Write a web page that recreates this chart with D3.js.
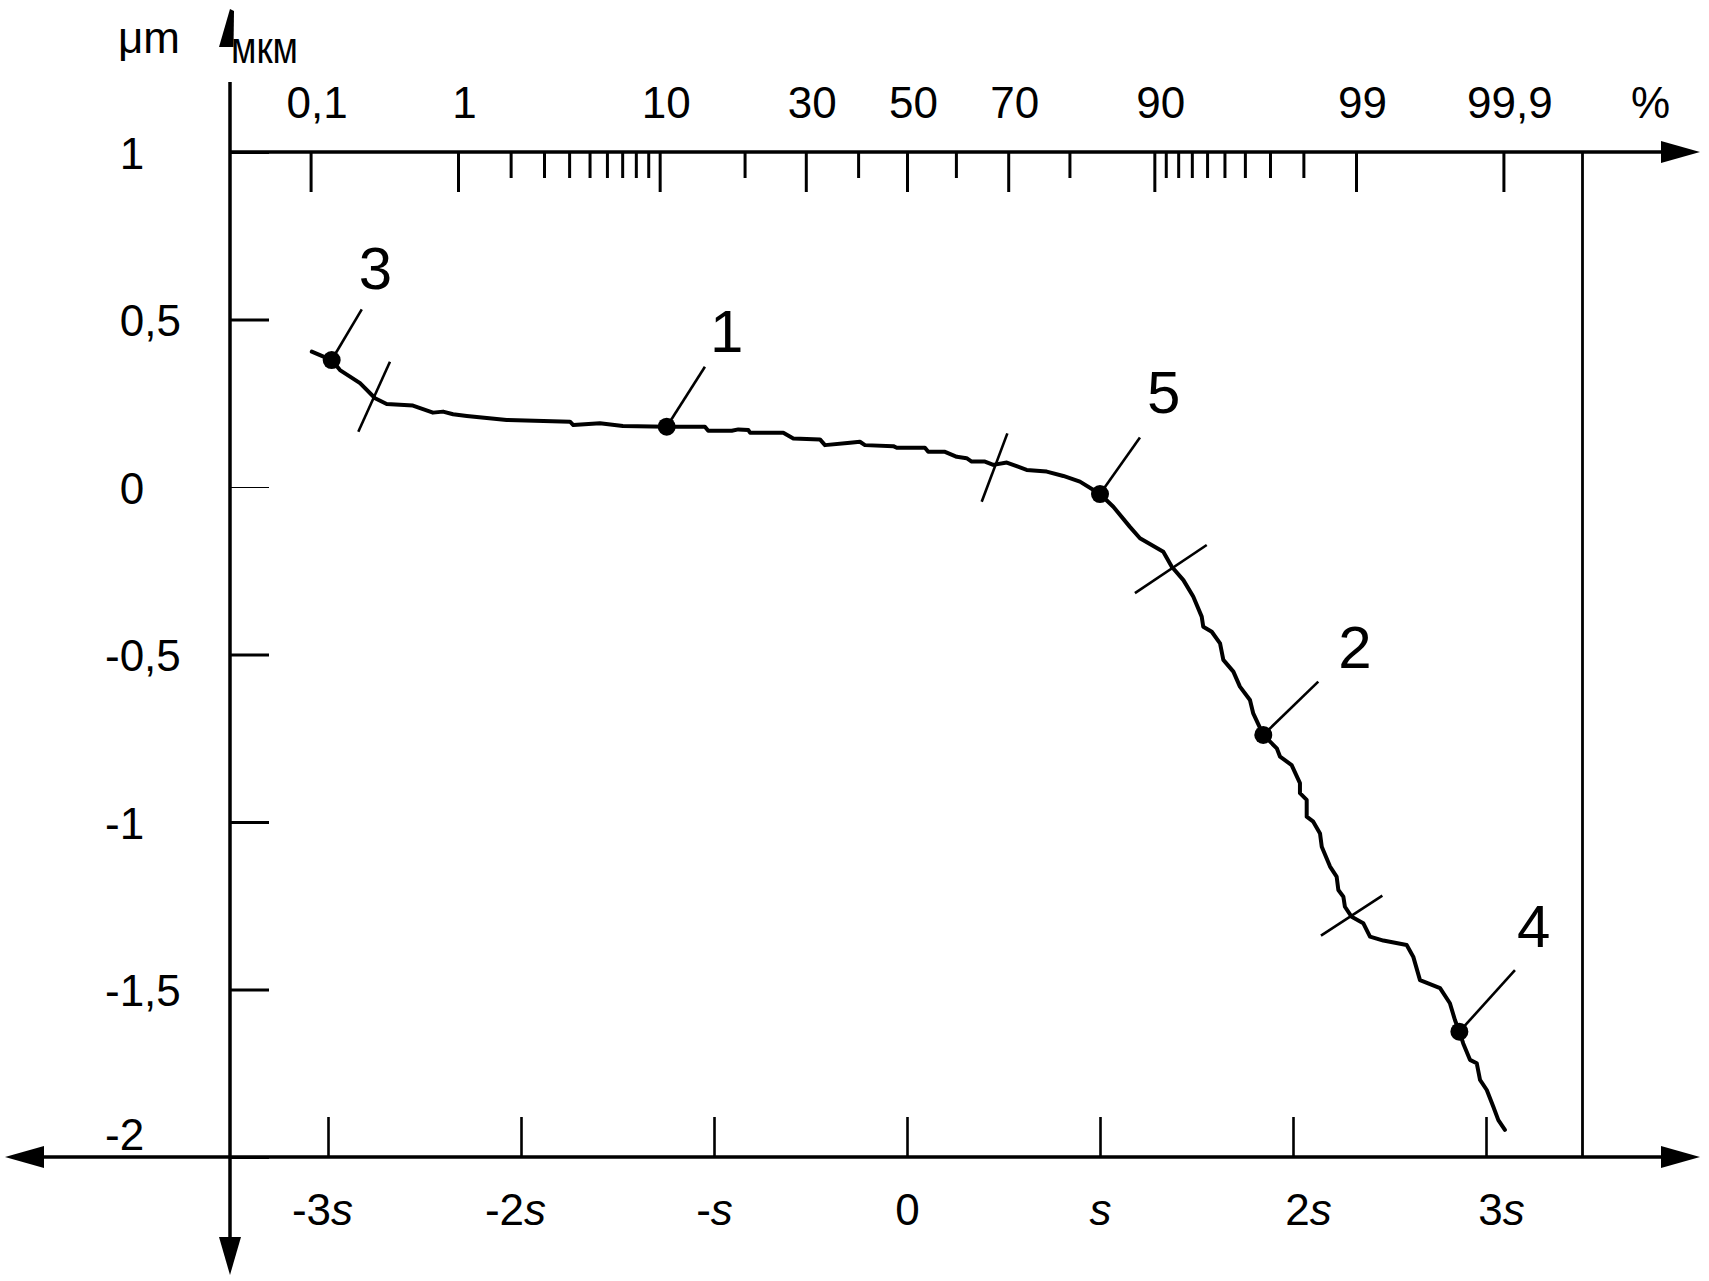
<!DOCTYPE html>
<html lang="ru">
<head>
<meta charset="UTF-8">
<title>Probability plot of profile deviations</title>
<script src="https://d3js.org/d3.v7.min.js"></script>
<style>
  body { margin: 0; background: #fff; }
  svg { display: block; background: #fff; }
  svg text { font-family: "Liberation Sans", Arial, sans-serif; fill: #000; }
</style>
</head>
<body>
<svg width="1709" height="1281"></svg>
<script>
// upper axis: cumulative percentage (probability scale)
var pctMajor = [0.1, 1, 10, 30, 50, 70, 90, 99, 99.9];
var pctLabels = ["0,1", "1", "10", "30", "50", "70", "90", "99", "99,9"];
var pctMinor = [2, 3, 4, 5, 6, 7, 8, 9, 20, 40, 60, 80, 91, 92, 93, 94, 95, 96, 97, 98];

// lower axis: multiples of s
var sTicks = [-3, -2, -1, 0, 1, 2, 3];
var sPrefix = ["-3", "-2", "-", "0", "", "2", "3"];

// vertical axis, µm
var yTicks = [1, 0.5, 0, -0.5, -1, -1.5, -2];
var yLabels = ["1", "0,5", "0", "-0,5", "-1", "-1,5", "-2"];

// the curve: position in s units and deviation in µm
var curveZ = [-3.084, -2.981, -2.938, -2.834, -2.756, -2.696, -2.560, -2.456, -2.404, -2.352,
  -2.281, -2.074, -1.746, -1.729, -1.591, -1.472, -1.245, -1.047, -1.030, -0.908,
  -0.874, -0.822, -0.813, -0.641, -0.589, -0.451, -0.425, -0.295, -0.244, -0.218,
  -0.071, -0.053, 0.093, 0.110, 0.197, 0.258, 0.309, 0.335, 0.404, 0.447,
  0.517, 0.620, 0.724, 0.810, 0.896, 1.000, 1.069, 1.155, 1.207, 1.328,
  1.372, 1.432, 1.483, 1.527, 1.535, 1.579, 1.622, 1.639, 1.691, 1.725,
  1.777, 1.794, 1.846, 1.916, 1.933, 1.993, 2.036, 2.036, 2.071, 2.071,
  2.105, 2.140, 2.149, 2.192, 2.226, 2.235, 2.261, 2.269, 2.304, 2.364,
  2.399, 2.468, 2.589, 2.623, 2.658, 2.762, 2.813, 2.839, 2.862, 2.882,
  2.917, 2.952, 2.969, 3.004, 3.038, 3.064, 3.098];
var curveV = [0.404, 0.379, 0.349, 0.310, 0.265, 0.248, 0.243, 0.222, 0.225, 0.217,
  0.212, 0.200, 0.195, 0.185, 0.190, 0.182, 0.180, 0.180, 0.168, 0.168,
  0.172, 0.170, 0.162, 0.162, 0.145, 0.142, 0.125, 0.132, 0.135, 0.125,
  0.122, 0.117, 0.117, 0.105, 0.105, 0.090, 0.086, 0.076, 0.076, 0.066,
  0.073, 0.051, 0.046, 0.033, 0.016, -0.021, -0.059, -0.119, -0.153, -0.193,
  -0.238, -0.278, -0.327, -0.387, -0.417, -0.432, -0.467, -0.516, -0.551, -0.596,
  -0.636, -0.676, -0.740, -0.780, -0.805, -0.830, -0.884, -0.914, -0.934, -0.984,
  -0.999, -1.034, -1.074, -1.133, -1.163, -1.203, -1.223, -1.253, -1.283, -1.302,
  -1.342, -1.354, -1.367, -1.402, -1.472, -1.496, -1.541, -1.591, -1.626, -1.661,
  -1.710, -1.720, -1.770, -1.800, -1.850, -1.890, -1.919];

// numbered points on the curve and the far end of their leaders
var markLabels = ["3", "1", "5", "2", "4"];
var markZ = [-2.981, -1.245, 1.000, 1.846, 2.862];
var markV = [0.379, 0.180, -0.021, -0.740, -1.626];
var leaderZ = [-2.825, -1.047, 1.207, 2.131, 3.150];
var leaderV = [0.530, 0.359, 0.148, -0.581, -1.442];

// short strokes across the curve (start / end)
var crossZ1 = [-2.843, 0.387, 1.181, 2.145];
var crossV1 = [0.165, -0.044, -0.317, -1.339];
var crossZ2 = [-2.679, 0.520, 1.553, 2.463];
var crossV2 = [0.374, 0.160, -0.173, -1.220];

// inverse of the normal distribution (Acklam's approximation)
function probit(p) {
  var a = [-39.69683028665376, 220.9460984245205, -275.9285104469687, 138.3577518672690, -30.66479806614716, 2.506628277459239];
  var b = [-54.47609879822406, 161.5858589208251, -155.6989798598866, 66.80131188771972, -13.28068155288572];
  var c = [-0.007784894002430293, -0.3223964580411365, -2.400758277161838, -2.549732539343734, 4.374664141464968, 2.938163982698783];
  var d = [0.007784695709041462, 0.3224671290700398, 2.445134137142996, 3.754408661907416];
  var pl = 0.02425, q, r;
  if (p < pl) {
    q = Math.sqrt(-2 * Math.log(p));
    return (((((c[0]*q+c[1])*q+c[2])*q+c[3])*q+c[4])*q+c[5]) / ((((d[0]*q+d[1])*q+d[2])*q+d[3])*q+1);
  }
  if (p > 1 - pl) {
    q = Math.sqrt(-2 * Math.log(1 - p));
    return -(((((c[0]*q+c[1])*q+c[2])*q+c[3])*q+c[4])*q+c[5]) / ((((d[0]*q+d[1])*q+d[2])*q+d[3])*q+1);
  }
  q = p - 0.5; r = q * q;
  return (((((a[0]*r+a[1])*r+a[2])*r+a[3])*r+a[4])*r+a[5])*q / (((((b[0]*r+b[1])*r+b[2])*r+b[3])*r+b[4])*r+1);
}

var svg = d3.select("svg");
var FONT = 44;

var x = d3.scaleLinear().domain([-3, 3]).range([328, 1486]);
var y = d3.scaleLinear().domain([-2, 1]).range([1157, 152]);

// probability scale built on top of x, usable by d3.axis
function pScale(p) { return x(probit(p / 100)); }
pScale.copy = function() { return pScale; };
pScale.domain = function() { return [0.1, 99.9]; };
pScale.range = function() { return x.range(); };

var yTop = y(1), yBot = y(-2);
var axisLeftX = 230;       // vertical axis position
var frameX = x(3.5);       // right frame line
var rightEnd = 1700, leftEnd = 5;

// ---- upper probability axis
var topAxis = svg.append("g").attr("transform", "translate(0," + yTop + ")");
topAxis.append("g")
  .call(d3.axisTop(pScale).tickValues(pctMinor).tickSizeInner(-26).tickSizeOuter(0).tickFormat(""))
  .call(function(g) { g.select(".domain").remove(); });
topAxis.append("g")
  .call(d3.axisTop(pScale).tickValues(pctMajor).tickSizeInner(-40).tickSizeOuter(0).tickPadding(34)
    .tickFormat(function(d, i) { return pctLabels[i]; }))
  .call(function(g) {
    g.select(".domain").remove();
    g.selectAll("text").attr("font-size", FONT).attr("dx", 6).attr("font-family", null);
  });
topAxis.selectAll(".tick line").attr("stroke", "#000").attr("stroke-width", 3);

svg.append("text").attr("x", 1631).attr("y", 118).attr("font-size", FONT).text("%");

// ---- lower s axis
var botAxis = svg.append("g").attr("transform", "translate(0," + yBot + ")")
  .call(d3.axisBottom(x).tickValues(sTicks).tickSizeInner(-40).tickSizeOuter(0).tickPadding(37).tickFormat(""))
  .call(function(g) { g.select(".domain").remove(); });
botAxis.selectAll(".tick line").attr("stroke", "#000").attr("stroke-width", 2.6);
botAxis.selectAll(".tick text").each(function(d, i) {
  var t = d3.select(this).attr("font-size", FONT).attr("font-family", null)
    .attr("dx", d >= 2 ? 15 : (d <= -2 ? -6 : 0));
  t.append("tspan").text(sPrefix[i]);
  if (d !== 0) t.append("tspan").attr("font-style", "italic").text("s");
});

// ---- vertical axis (ticks inside, labels at the left)
var leftAxis = svg.append("g").attr("transform", "translate(" + axisLeftX + ",0)")
  .call(d3.axisLeft(y).tickValues(yTicks).tickSizeInner(-39).tickSizeOuter(0)
    .tickFormat(function(d, i) { return yLabels[i]; }))
  .call(function(g) { g.select(".domain").remove(); });
leftAxis.selectAll(".tick line").attr("stroke", "#000")
  .attr("stroke-width", function(d) { return d === 0 ? 1.2 : 3; });
leftAxis.selectAll(".tick text")
  .attr("font-size", FONT).attr("font-family", null)
  .attr("text-anchor", "start").attr("dy", null)
  .attr("x", function(d) { return 105 - axisLeftX + (d < 0 ? 0 : 14.7); })
  .attr("y", function(d) { return d === yTicks[yTicks.length - 1] ? -8 : 16; });

// ---- axis lines, frame and arrows
var lines = svg.append("g").attr("stroke", "#000").attr("fill", "none");
lines.append("line").attr("x1", axisLeftX).attr("x2", rightEnd - 20).attr("y1", yTop).attr("y2", yTop).attr("stroke-width", 3.5);
lines.append("line").attr("x1", leftEnd + 20).attr("x2", rightEnd - 20).attr("y1", yBot).attr("y2", yBot).attr("stroke-width", 3.5);
lines.append("line").attr("x1", axisLeftX).attr("x2", axisLeftX).attr("y1", 82).attr("y2", 1255).attr("stroke-width", 3.5);
lines.append("line").attr("x1", frameX).attr("x2", frameX).attr("y1", yTop).attr("y2", yBot).attr("stroke-width", 2.8);

var arrows = [
  [[rightEnd, yTop], [rightEnd - 39, yTop - 11], [rightEnd - 39, yTop + 11]],
  [[rightEnd, yBot], [rightEnd - 39, yBot - 11], [rightEnd - 39, yBot + 11]],
  [[leftEnd, yBot], [leftEnd + 39, yBot - 11], [leftEnd + 39, yBot + 11]],
  [[axisLeftX, 1275], [axisLeftX - 11, 1237], [axisLeftX + 11, 1237]],
  [[230, 9], [234, 11], [233.5, 47], [219, 47]]
];
svg.append("g").selectAll("polygon").data(arrows).join("polygon")
  .attr("points", function(d) { return d.map(function(p) { return p.join(","); }).join(" "); })
  .attr("fill", "#000");

// units
svg.append("text").attr("x", 118).attr("y", 53).attr("font-size", FONT).text("μm");
svg.append("text").attr("x", 231).attr("y", 63).attr("font-size", 44)
  .attr("textLength", 67).attr("lengthAdjust", "spacingAndGlyphs").text("мкм");

// ---- curve
var pts = curveZ.map(function(z, i) { return [z, curveV[i]]; });
svg.append("path").datum(pts)
  .attr("d", d3.line().x(function(d) { return x(d[0]); }).y(function(d) { return y(d[1]); }))
  .attr("fill", "none").attr("stroke", "#000").attr("stroke-width", 4)
  .attr("stroke-linejoin", "round").attr("stroke-linecap", "round");

// strokes across the curve
svg.append("g").selectAll("line").data(crossZ1).join("line")
  .attr("x1", function(d) { return x(d); })
  .attr("y1", function(d, i) { return y(crossV1[i]); })
  .attr("x2", function(d, i) { return x(crossZ2[i]); })
  .attr("y2", function(d, i) { return y(crossV2[i]); })
  .attr("stroke", "#000").attr("stroke-width", 2.6);

// numbered points
var labelNudge = [[-3, -20], [5, -15], [7, -24], [20, -14], [2, -23]];
var marks = svg.append("g").selectAll("g").data(markLabels).join("g");
marks.append("line")
  .attr("x1", function(d, i) { return x(markZ[i]); })
  .attr("y1", function(d, i) { return y(markV[i]); })
  .attr("x2", function(d, i) { return x(leaderZ[i]); })
  .attr("y2", function(d, i) { return y(leaderV[i]); })
  .attr("stroke", "#000").attr("stroke-width", 2.6);
marks.append("circle")
  .attr("cx", function(d, i) { return x(markZ[i]); })
  .attr("cy", function(d, i) { return y(markV[i]); })
  .attr("r", 9).attr("fill", "#000");
marks.append("text")
  .attr("x", function(d, i) { return x(leaderZ[i]) + labelNudge[i][0]; })
  .attr("y", function(d, i) { return y(leaderV[i]) + labelNudge[i][1]; })
  .attr("font-size", 60)
  .text(function(d) { return d; });
</script>
</body>
</html>
